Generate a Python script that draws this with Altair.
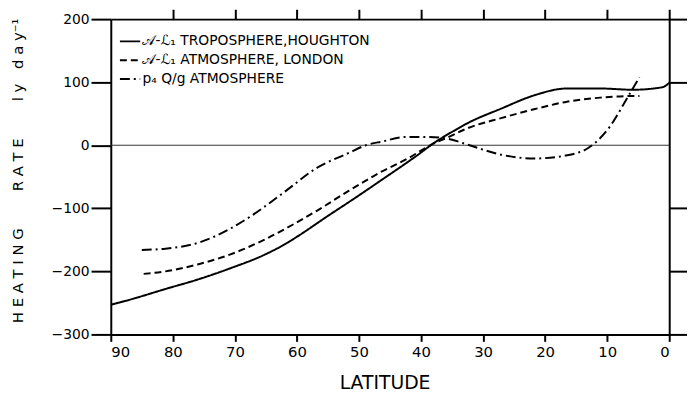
import altair as alt
import pandas as pd

# Series 1: A-L troposphere (Houghton)
hough_lat = [90, 86.6, 81.2, 76, 70.7, 65.3, 61.6, 59.5, 55, 51.6, 46.2, 40.9, 37.7, 34.5, 32.5, 27.1, 21.8, 16.5, 11.1, 5.9, 1.1, 0]
hough_val = [-253, -244, -228, -213, -195, -174, -155, -142, -112, -90, -54, -18, 5, 24, 35, 58, 79, 90, 90, 88, 92, 99]

# Series 2: A-L atmosphere (London)
lond_lat = [84.7, 81.2, 76, 70.7, 65.3, 60.5, 56.8, 51.6, 46.2, 42.5, 37.7, 36, 32.5, 27.1, 21.8, 16.5, 11.1, 5.9, 4.8]
lond_val = [-204, -200, -189, -173, -150, -125, -104, -72, -41, -23, 4, 11, 27, 43, 57, 69, 75.5, 78, 78]

# Series 3: p Q/g atmosphere
pq_lat = [85, 81.2, 76, 70.7, 67.5, 65.3, 62, 56.8, 51.6, 48.9, 46.2, 42.5, 38.8, 35.6, 32.5, 27.1, 21.8, 16.5, 13, 9.6, 7, 4.8]
pq_val = [-166, -164, -155, -132, -113, -98, -74, -36, -12, 0, 6, 13, 13, 10, 1, -15, -21, -16, -4, 29, 71, 108]

names = ["𝒜-ℒ₁ TROPOSPHERE,HOUGHTON", "𝒜-ℒ₁ ATMOSPHERE, LONDON", "p₄ Q/g ATMOSPHERE"]

x_ticks = [90, 80, 70, 60, 50, 40, 30, 20, 10, 0]
y_ticks = [200, 100, 0, -100, -200, -300]

y_title = "H E A T I N G\u2003\u2003\u2002R A T E\u2003\u2003\u2002l y\u2003d a y⁻¹"

rows = []
for n, la, va in [(names[0], hough_lat, hough_val), (names[1], lond_lat, lond_val), (names[2], pq_lat, pq_val)]:
    for a, b in zip(la, va):
        rows.append({"series": n, "lat": a, "val": b})
df = pd.DataFrame(rows)

FONT = "DejaVu Sans"
xscale = alt.Scale(domain=[90, 0], nice=False, zero=False)
yscale = alt.Scale(domain=[-300, 200], nice=False, zero=False)

lines = alt.Chart(df).mark_line(color="black", strokeWidth=2, interpolate="monotone").encode(
    x=alt.X("lat:Q", scale=xscale, axis=alt.Axis(
        values=x_ticks, format="d", title="LATITUDE", orient="bottom",
        tickSize=7, labelPadding=3, labelFontSize=15, titleFontSize=19,
        titleFontWeight="normal", titleY=49, titleX=277, titleBaseline="middle")),
    y=alt.Y("val:Q", scale=yscale, axis=alt.Axis(
        values=y_ticks, format="d", orient="left",
        title=y_title,
        tickSize=20, labelPadding=2, labelFontSize=14, titleFontSize=15,
        titleFontWeight="normal", titleX=-94, titleY=153, titleBaseline="middle", titleAngle=270)),
    strokeDash=alt.StrokeDash("series:N", scale=alt.Scale(domain=names, range=[[1, 0], [7, 4], [10, 4, 2, 4]]),
                              legend=alt.Legend(title=None, orient="none", legendX=8, legendY=11,
                                                symbolType="stroke", symbolSize=420, symbolStrokeWidth=2,
                                                symbolStrokeColor="black", labelFontSize=14, labelFont=FONT,
                                                labelColor="black", rowPadding=-5, labelOffset=1,
                                                labelLimit=400)),
    order=alt.Order("lat:Q", sort="descending"),
)

zero = alt.Chart(pd.DataFrame({"z": [0]})).mark_rule(color="#333", strokeWidth=1).encode(
    y=alt.Y("z:Q", scale=yscale, axis=None)
)

frame = alt.Chart(df).mark_point(opacity=0).encode(
    x=alt.X("lat:Q", scale=xscale, axis=alt.Axis(values=[80, 70, 60, 50, 40, 30, 20, 10, 0], orient="top",
                                                 labels=False, title=None, tickSize=10)),
    y=alt.Y("val:Q", scale=yscale, axis=alt.Axis(values=[200, 100, -100, -200, -300], orient="right",
                                                 labels=False, title=None, tickSize=18)),
)

chart = alt.layer(zero, lines, frame).resolve_axis(x="independent", y="independent").properties(
    width=565, height=319,
    autosize=alt.AutoSizeParams(type="none"),
    padding={"left": 104, "top": 9, "right": 18, "bottom": 56},
    background="white",
).configure_view(stroke=None).configure_axis(
    domainColor="black", domainWidth=2, tickColor="black", tickWidth=2, grid=False,
    labelColor="black", titleColor="black", labelFont=FONT, titleFont=FONT,
)

chart.save("out.html", embed_options={"renderer": "svg", "actions": False})
